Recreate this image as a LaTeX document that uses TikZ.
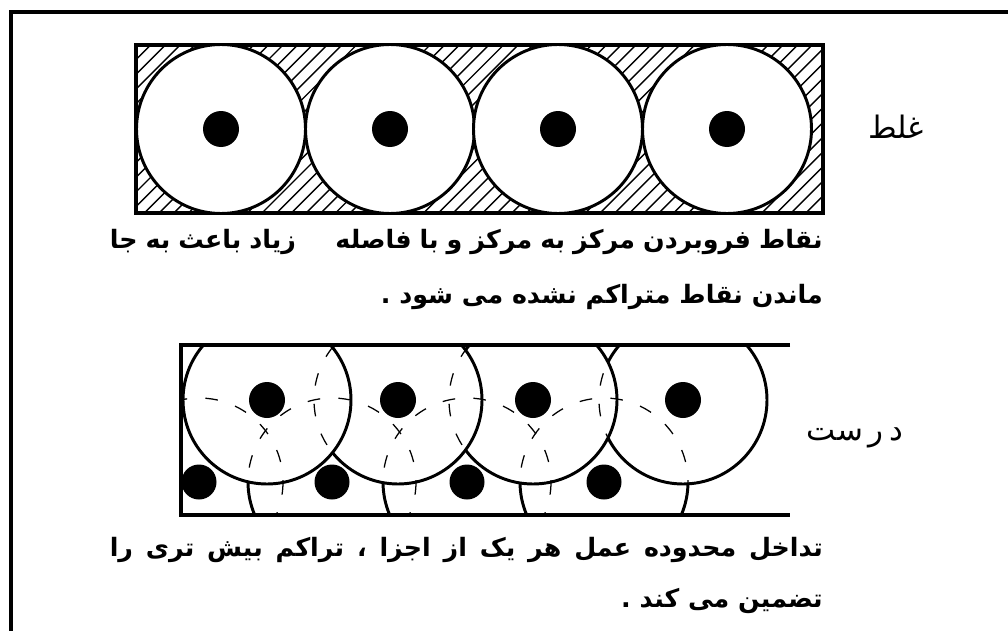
\documentclass[tikz,border=0pt]{standalone}
\usepackage{fontspec}
\newfontfamily\arabicfont[Script=Arabic]{DejaVu Sans}
\TeXXeTstate=1
\usetikzlibrary{positioning}

% justified line of right-to-left text
\newcommand{\rtlline}[1]{\makebox[507pt][s]{\beginR #1\endR}}

\begin{document}
\begin{tikzpicture}[x=0.025cm, y=-0.025cm,
    frame/.style={line width=2.8pt},
    ring/.style={line width=2.1pt, fill=white},
    hidden/.style={line width=0.9pt, dash pattern=on 9pt off 13pt},
    hatch/.style={line width=1pt},
    dot/.style={fill=black},
    note/.style={font=\arabicfont\bfseries\fontsize{18}{22}\selectfont, inner sep=0pt},
    tag/.style={font=\arabicfont\fontsize{22}{26}\selectfont, inner sep=0pt}]
    \useasboundingbox (0,0) rectangle (1008,631);

    % Outer frame
    \draw[frame] (11,680) -- (11,12) -- (1050,12);

    % Wrong: hatched box with touching circles
    \begin{scope}
        \clip (136,45) rectangle (823,213);
        \foreach \c in {181,195.7,...,1040}
            \draw[hatch] (\c-213,213) -- (\c-45,45);
    \end{scope}
    \draw[frame] (136,45) rectangle (823,213);
    \foreach \x in {221,390,558,727} {
        \draw[ring] (\x,129) circle (84.5);
        \fill[dot] (\x,129) circle (18);
    }
    \node[tag] (wrong) at (896,127) {\beginR غلط\endR};

    % Right: overlapping circles in a band
    \begin{scope}
        \clip (181,345) rectangle (790,515);
        % back row, later ones in front
        \foreach \x in {199,332,467,604}
            \draw[ring] (\x,482) circle (84);
        % front row, first one in front
        \foreach \x in {683,533,398,267}
            \draw[ring] (\x,400) circle (84);
        % hidden edges
        \foreach \x in {199,332,467,604}
            \draw[hidden] (\x,482) circle (84);
        \foreach \x in {267,398,533,683}
            \draw[hidden] (\x,400) circle (84);
        \foreach \x in {267,398,533,683}
            \fill[dot] (\x,400) circle (18);
        \foreach \x in {199,332,467,604}
            \fill[dot] (\x,482) circle (17.5);
    \end{scope}
    \draw[frame] (790,345) -- (181,345) -- (181,515) -- (790,515);
    \node[tag] (right) at (855,438) {\beginR د\hspace{4pt}ر\hspace{4pt}ست\endR};

    % Notes
    \node[note, anchor=east] (note1) at (823,242)
        {\rtlline{نقاط فروبردن مرکز به مرکز و با فاصله\hspace{28pt}زیاد باعث به جا}};
    \node[note, anchor=east] (note2) at (823,297)
        {\beginR ماندن نقاط متراکم نشده می شود .\endR};
    \node[note, anchor=east] (note3) at (823,550)
        {\rtlline{تداخل محدوده عمل هر یک از اجزا ، تراکم بیش تری را}};
    \node[note, anchor=east] (note4) at (823,601)
        {\beginR تضمین می کند .\endR};
\end{tikzpicture}
\end{document}
